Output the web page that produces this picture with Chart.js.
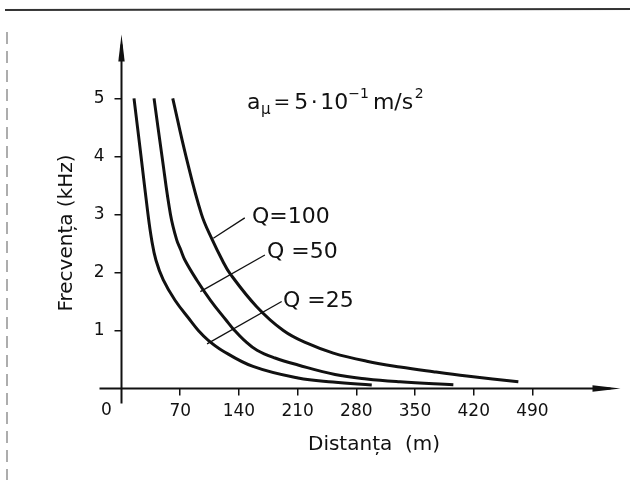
<!DOCTYPE html>
<html>
<head>
<meta charset="utf-8">
<script src="https://cdn.jsdelivr.net/npm/chart.js@4"></script>
<style>
  body { margin: 0; background: #fff; }
  canvas { display: block; }
</style>
</head>
<body>
<canvas id="chart" width="630" height="492"></canvas>
<script>
'use strict';

// distance (m) / frequency (kHz)
const q25Dist = [14.9, 23.3, 31.6, 36.0, 41.1, 49.8, 63.8, 81.7, 91.6, 103.5, 119.5, 156.8, 210.5, 252.2, 298.4];
const q25Freq = [5.0, 4.0, 3.0, 2.56, 2.21, 1.87, 1.52, 1.18, 1.0, 0.83, 0.66, 0.38, 0.18, 0.11, 0.06];

const q50Dist = [38.8, 48.3, 58.4, 65.8, 70.6, 75.7, 89.7, 106.1, 124.6, 134.2, 146.1, 161.6, 183.1, 210.5, 254.6, 292.4, 332.1, 395.7];
const q50Freq = [5.0, 4.0, 3.0, 2.56, 2.39, 2.21, 1.87, 1.52, 1.18, 1.01, 0.835, 0.66, 0.525, 0.405, 0.241, 0.164, 0.117, 0.065];

const q100Dist = [61.1, 76.9, 95.4, 108.3, 120.2, 129.4, 161.2, 193.0, 221.2, 252.6, 292.4, 332.1, 371.8, 411.7, 473.2];
const q100Freq = [5.0, 4.0, 3.0, 2.56, 2.21, 1.98, 1.41, 1.0, 0.78, 0.61, 0.47, 0.37, 0.289, 0.215, 0.117];

const xTickVals = [70, 140, 210, 280, 350, 420, 490];
const yTickVals = [1, 2, 3, 4, 5];
const seriesNames = ['Q =25', 'Q =50', 'Q=100'];

const ink = '#111';
const font = 'DejaVu Sans';

function pts(xs, ys) {
  return xs.map((v, i) => ({x: v, y: ys[i]}));
}

function curve(label, xs, ys) {
  return {
    label: label,
    data: pts(xs, ys),
    showLine: true,
    borderColor: ink,
    borderWidth: 3,
    pointRadius: 0,
    tension: 0.4,
    fill: false
  };
}

function seg(ctx, a, b, c, d) {
  ctx.beginPath();
  ctx.moveTo(a, b);
  ctx.lineTo(c, d);
  ctx.stroke();
}

// writes pieces one after another: [text, size, dy, gapAfter]
function pieces(ctx, x, base, list) {
  list.forEach(p => {
    ctx.font = `${p[1]}px "${font}"`;
    ctx.fillText(p[0], x, base + p[2]);
    x += ctx.measureText(p[0]).width + p[3];
  });
}

// axes with arrows, titles, formula and the Q labels
const decor = {
  id: 'decor',
  afterDatasetsDraw(chart) {
    const {ctx, scales: {x, y}} = chart;
    const x0 = x.getPixelForValue(0), y0 = y.getPixelForValue(0);
    const xEnd = x.getPixelForValue(x.max), yTop = y.getPixelForValue(y.max);
    ctx.save();
    ctx.fillStyle = ink;
    ctx.lineCap = 'butt';

    // scan edges
    ctx.lineWidth = 2;
    ctx.strokeStyle = '#333';
    seg(ctx, 5, 10, 630, 9);
    ctx.lineWidth = 1.2;
    ctx.strokeStyle = '#777';
    ctx.setLineDash([12, 7]);
    seg(ctx, 7, 32, 7, 480);
    ctx.setLineDash([]);
    ctx.strokeStyle = ink;

    // axes
    ctx.lineWidth = 2;
    seg(ctx, x0 - 22, y0, xEnd - 10, y0);
    seg(ctx, x0, y0 + 15, x0, yTop + 10);
    ctx.beginPath();
    ctx.moveTo(x0, yTop);
    ctx.lineTo(x0 - 3.2, yTop + 27);
    ctx.lineTo(x0 + 3.2, yTop + 27);
    ctx.closePath();
    ctx.fill();
    ctx.beginPath();
    ctx.moveTo(xEnd, y0);
    ctx.lineTo(xEnd - 28, y0 - 3.2);
    ctx.lineTo(xEnd - 28, y0 + 3.2);
    ctx.closePath();
    ctx.fill();

    // origin label
    ctx.font = `17px "${font}"`;
    ctx.textAlign = 'center';
    ctx.textBaseline = 'middle';
    ctx.fillText('0', x0 - 15, 411);

    // axis titles
    ctx.font = `20px "${font}"`;
    ctx.fillText('Distanța  (m)', 374, 445);
    ctx.save();
    ctx.translate(67, 233);
    ctx.rotate(-Math.PI / 2);
    ctx.fillText('Frecvența (kHz)', 0, 0);
    ctx.restore();

    // formula a_mu = 5*10^-1 m/s^2
    ctx.textAlign = 'left';
    ctx.textBaseline = 'alphabetic';
    pieces(ctx, 247, 109, [
      ['a', 22, 0, 0.5],
      ['μ', 15, 5, 3],
      ['=', 20, -1, 4],
      ['5', 22, 0, 2.5],
      ['·', 22, 0, 2.5],
      ['10', 22, 0, 0],
      ['−1', 14, -11, 4],
      ['m/s', 22, 0, 1.5],
      ['2', 14, -11, 0]
    ]);

    // Q labels with leader lines (ends given in data units)
    const leaders = [
      [109.5, 2.59, 147, 2.94],
      [94, 1.67, 171, 2.30],
      [102, 0.77, 191, 1.50]
    ];
    const labelAt = [[252, 217.5], [267, 252.5], [283, 301]];
    ctx.lineWidth = 1.3;
    ctx.font = `22px "${font}"`;
    ctx.textBaseline = 'middle';
    const order = [2, 1, 0];
    leaders.forEach((l, i) => {
      seg(ctx, x.getPixelForValue(l[0]), y.getPixelForValue(l[1]),
        x.getPixelForValue(l[2]), y.getPixelForValue(l[3]));
      ctx.fillText(seriesNames[order[i]], labelAt[i][0], labelAt[i][1]);
    });
    ctx.restore();
  }
};

const c = document.getElementById('chart').getContext('2d');
new Chart(c, {
  type: 'scatter',
  data: {
    datasets: [
      curve(seriesNames[0], q25Dist, q25Freq),
      curve(seriesNames[1], q50Dist, q50Freq),
      curve(seriesNames[2], q100Dist, q100Freq)
    ]
  },
  options: {
    responsive: false,
    animation: false,
    layout: {padding: {left: 0, top: 34.5, right: 9.5, bottom: 0}},
    plugins: {legend: {display: false}, tooltip: {enabled: false}},
    scales: {
      x: {
        type: 'linear', min: 0, max: 595,
        afterBuildTicks: s => { s.ticks = xTickVals.map(v => ({value: v})); },
        afterFit: s => { s.height = 103.5; },
        grid: {drawOnChartArea: false, tickLength: 7, color: ink, lineWidth: 1.5},
        border: {display: false},
        ticks: {color: ink, padding: 6, maxRotation: 0, font: {family: font, size: 17}}
      },
      y: {
        type: 'linear', min: 0, max: 6.1,
        afterBuildTicks: s => { s.ticks = yTickVals.map(v => ({value: v})); },
        afterFit: s => { s.width = 121.5; },
        grid: {drawOnChartArea: false, tickLength: 7, color: ink, lineWidth: 1.5},
        border: {display: false},
        ticks: {color: ink, padding: 10, font: {family: font, size: 17}}
      }
    }
  },
  plugins: [decor]
});
</script>
</body>
</html>
